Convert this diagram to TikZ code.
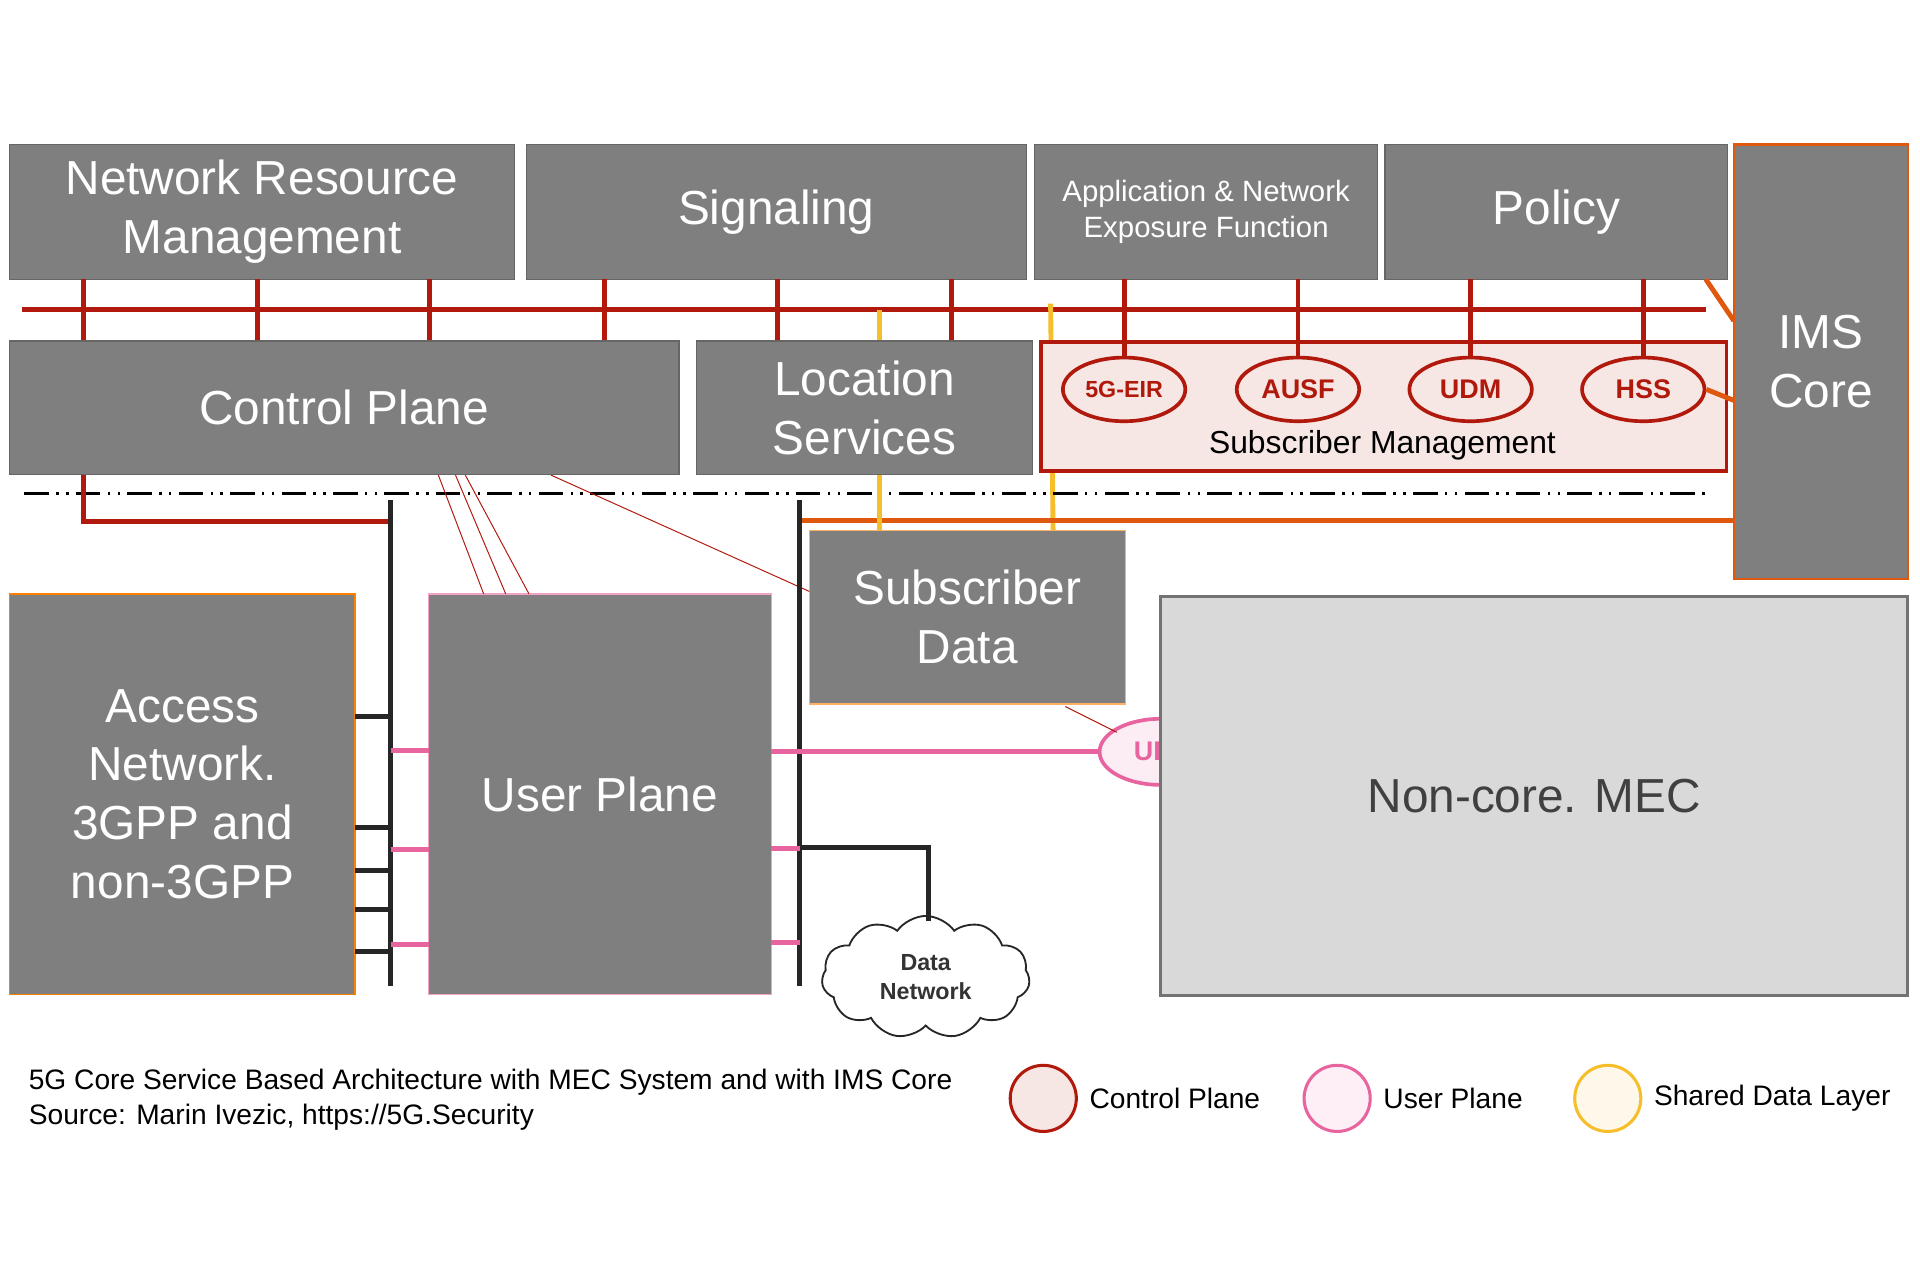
\documentclass[tikz,border=0pt]{standalone}
\usepackage{fontspec}
\setmainfont{Liberation Sans}
\usetikzlibrary{shapes.symbols,shapes.geometric}
\definecolor{boxg}{HTML}{7F7F7F}
\definecolor{cpred}{HTML}{B0190B}
\definecolor{orng}{HTML}{E0580E}
\definecolor{yel}{HTML}{F5BE2A}
\definecolor{pnk}{HTML}{E8649F}
\definecolor{smfill}{HTML}{F6E6E4}
\begin{document}
\begin{tikzpicture}[x=1pt,y=-1pt,
  gbox/.style={fill=boxg,draw=boxg!80!black,line width=1pt,text=white,align=center,inner sep=0pt},
  big/.style={font=\fontsize{39}{48}\selectfont},
  redl/.style={draw=cpred,line width=4pt},
  thin/.style={draw=cpred,line width=0.8pt},
  blk/.style={draw=black!85,line width=4pt},
  pk/.style={draw=pnk,line width=4pt},
  yl/.style={draw=yel,line width=4pt},
  el/.style={ellipse,draw=cpred,line width=3pt,fill=smfill,minimum width=100pt,minimum height=52pt,text=cpred,font=\fontsize{22}{26}\selectfont\bfseries},
  leg/.style={circle,minimum size=54pt,line width=2.5pt},
  legt/.style={anchor=west,font=\fontsize{23}{27}\selectfont}]
\useasboundingbox (0,0) rectangle (1568,1045);
% boxes top
\node[gbox,big,minimum width=412pt,minimum height=110pt] (nrm) at (214,173) {Network Resource\\Management};
\node[gbox,big,minimum width=408pt,minimum height=110pt] (sig) at (634,173) {Signaling};
\node[gbox,font=\fontsize{24}{29}\selectfont,minimum width=280pt,minimum height=110pt] (anef) at (985,173) {Application \& Network\\Exposure Function};
\node[gbox,big,minimum width=280pt,minimum height=110pt] (pol) at (1271,173) {Policy};
\node[gbox,big,draw=orng,line width=2pt,minimum width=142pt,minimum height=355pt] (ims) at (1487,295.5) {IMS\\Core};
% bus
\coordinate (busL) at (18,253); \coordinate (busR) at (1393,253);
\draw[redl] (busL) -- (busR);
\foreach \x in {68,210,351} \draw[redl] (\x,228) -- (\x,279);
\foreach \x in {494,635,777} \draw[redl] (\x,228) -- (\x,279);
\draw[yl] (718,253) -- (718,279);
\draw[yl] (858,248) -- (860,433);
% middle boxes
\node[gbox,big,minimum width=547pt,minimum height=109pt] (cp) at (281,333) {Control Plane};
\node[gbox,big,minimum width=274pt,minimum height=109pt] (loc) at (706,333) {Location\\Services};
\node[draw=cpred,line width=3pt,fill=smfill,minimum width=560pt,minimum height=105pt] (sm) at (1130,332) {};
\node[font=\fontsize{26}{30}\selectfont] (smt) at (1129,364) {Subscriber Management};
\foreach \x/\t/\n/\fs in {918/5G-EIR/e1/19,1060/AUSF/e2/22,1201/UDM/e3/22,1342/HSS/e4/22}{
  \draw[redl] (\x,228) -- (\x,292);
  \node[el,font=\fontsize{\fs}{24}\selectfont\bfseries] (\n) at (\x,318) {\t};}
\draw[draw=orng,line width=4pt] (1393,228) -- (1416,262);
\draw[draw=orng,line width=4pt] (e4.east) -- (1416,327);
% dash dot
\draw[black,line width=2pt,dash pattern=on 20pt off 6pt on 2pt off 6pt on 2pt off 6pt] (20,403) -- (1395,403);
\draw[redl] (68,388) -- (68,426) -- (319,426);
\draw[draw=orng,line width=4pt] (653,425) -- (1416,425);
\draw[yl] (718,388) -- (718,433);
% lower boxes
\node[gbox,big,draw=orange,minimum width=282pt,minimum height=327pt] (acc) at (149,648.5) {Access\\Network.\\3GPP and\\non-3GPP};
\node[gbox,big,draw=pnk!60,minimum width=280pt,minimum height=327pt] (up) at (490,648.5) {User Plane};
\node[gbox,big,draw=orange!60,minimum width=258pt,minimum height=142pt] (sd) at (790,504) {Subscriber\\Data};
\draw[thin] (358,388) -- (395,485);
\draw[thin] (372,388) -- (413,485);
\draw[thin] (380,388) -- (432,485);
\draw[thin] (450,388) -- (661,483);
\draw[blk] (319,408) -- (319,805);
\draw[blk] (653,408) -- (653,805);
\foreach \y in {585,676,711,743,777} \draw[blk] (290,\y) -- (319,\y);
\foreach \y in {613,694,771} \draw[pk] (319,\y) -- (350,\y);
\foreach \y in {693,770} \draw[pk] (630,\y) -- (653,\y);
\node[ellipse,draw=pnk,line width=3pt,fill=pnk!12,minimum width=100pt,minimum height=54pt,text=pnk,font=\fontsize{22}{26}\selectfont\bfseries] (upf) at (948,614) {UPF};
\draw[pk] (630,614) -- (upf.west);
\draw[thin] (870,577) -- (912,598);
\node[fill=black!15,draw=black!55,line width=2.5pt,minimum width=610pt,minimum height=326pt,text=black!75,font=\fontsize{39}{46}\selectfont] (mec) at (1253,650) {Non-core. MEC};
\node[cloud,cloud puffs=11,cloud puff arc=110,aspect=1.6,draw=black!85,line width=1.5pt,fill=white,minimum width=170pt,minimum height=100pt,align=center,text=black!80,font=\fontsize{19}{24}\selectfont\bfseries] (dn) at (756,798) {Data\\Network};
\draw[blk] (653,692) -- (758,692) -- (758,752);
% caption
\node[anchor=west,align=left,font=\fontsize{23}{28}\selectfont] (cap) at (20,898) {5G Core Service Based Architecture with MEC System and with IMS Core\\Source: Marin Ivezic, https://5G.Security};
\node[leg,draw=cpred,fill=smfill] (l1) at (852,897) {};
\node[legt] (l1t) at (l1.east) {\hspace{6pt}Control Plane};
\node[leg,draw=pnk,fill=pnk!10] (l2) at (1092,897) {};
\node[legt] (l2t) at (l2.east) {\hspace{6pt}User Plane};
\node[leg,draw=yel,fill=yel!10] (l3) at (1313,897) {};
\node[legt] (l3t) at (l3.east) {\hspace{6pt}Shared Data Layer};
\end{tikzpicture}
\end{document}
